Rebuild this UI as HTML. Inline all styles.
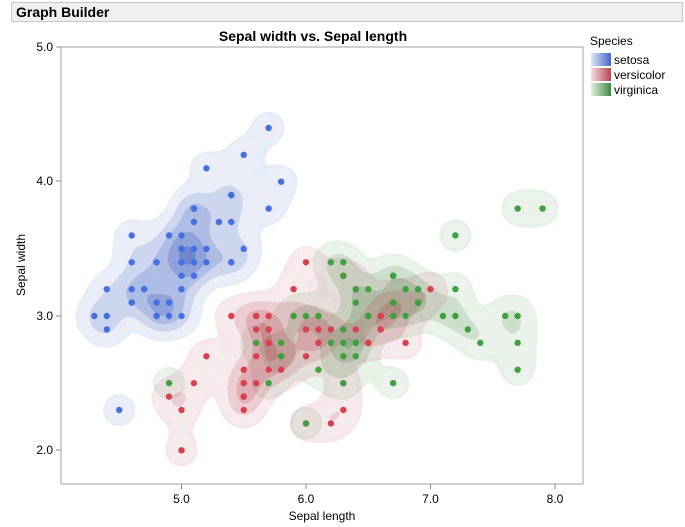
<!DOCTYPE html>
<html><head><meta charset="utf-8"><style>
body{margin:0;background:#fff;font-family:"Liberation Sans",sans-serif;}
#hdr{position:absolute;left:11px;top:2px;width:672px;height:20px;background:#f0f0f0;border:1px solid #c8c8c8;box-sizing:border-box;font-weight:bold;font-size:14px;line-height:19px;padding-left:4px;}
</style></head><body>
<div id="hdr">Graph Builder</div>
<svg id="s" width="685" height="527" style="position:absolute;left:0;top:0" xmlns="http://www.w3.org/2000/svg">
<defs>
<clipPath id="cp"><rect x="61" y="47" width="522" height="437"/></clipPath>
<filter id="f1" x="-10%" y="-10%" width="120%" height="120%"><feGaussianBlur stdDeviation="12"/><feComponentTransfer><feFuncA type="discrete" tableValues="0 0.12 0.12 0.28 0.28 0.45 0.45 0.62 0.62 0.8 0.8 0.9 0.9 0.9 0.9 0.9"/></feComponentTransfer></filter>
</defs>
<text x="313" y="41" font-size="14" font-weight="bold" text-anchor="middle">Sepal width vs. Sepal length</text>
<g id="dens" clip-path="url(#cp)"></g>
<g id="pts" clip-path="url(#cp)"></g>
<rect x="61" y="47" width="522" height="437" fill="none" stroke="#a0a0a0"/>
<g stroke="#888" font-size="12" fill="#000">
<line x1="56" y1="47" x2="61" y2="47"/><line x1="56" y1="181" x2="61" y2="181"/><line x1="56" y1="316" x2="61" y2="316"/><line x1="56" y1="450" x2="61" y2="450"/>
<line x1="181.5" y1="484" x2="181.5" y2="489"/><line x1="306" y1="484" x2="306" y2="489"/><line x1="430.5" y1="484" x2="430.5" y2="489"/><line x1="555" y1="484" x2="555" y2="489"/>
</g>
<g font-size="12" fill="#000" text-anchor="end" stroke="none">
<text x="53" y="51">5.0</text><text x="53" y="185">4.0</text><text x="53" y="320">3.0</text><text x="53" y="454">2.0</text>
</g>
<g font-size="12" fill="#000" text-anchor="middle">
<text x="181.5" y="503">5.0</text><text x="306" y="503">6.0</text><text x="430.5" y="503">7.0</text><text x="555" y="503">8.0</text>
<text x="322" y="520">Sepal length</text>
<text transform="translate(25,265) rotate(-90)">Sepal width</text>
</g>
<g font-size="12" fill="#000">
<text x="590" y="45">Species</text>
<defs>
<linearGradient id="gb"><stop offset="0" stop-color="#dfe6f6"/><stop offset="1" stop-color="#4466c8"/></linearGradient>
<linearGradient id="gr"><stop offset="0" stop-color="#f6e0e2"/><stop offset="1" stop-color="#b84050"/></linearGradient>
<linearGradient id="gg"><stop offset="0" stop-color="#e2efe2"/><stop offset="1" stop-color="#3f8a3f"/></linearGradient>
</defs>
<rect x="591" y="53" width="20" height="13" fill="url(#gb)"/><text x="614" y="64">setosa</text>
<rect x="591" y="68" width="20" height="13" fill="url(#gr)"/><text x="614" y="79">versicolor</text>
<rect x="591" y="83" width="20" height="13" fill="url(#gg)"/><text x="614" y="94">virginica</text>
</g>
</svg>
<script>
var D={
s:[[5.1,3.5],[4.9,3.0],[4.7,3.2],[4.6,3.1],[5.0,3.6],[5.4,3.9],[4.6,3.4],[5.0,3.4],[4.4,2.9],[4.9,3.1],[5.4,3.7],[4.8,3.4],[4.8,3.0],[4.3,3.0],[5.8,4.0],[5.7,4.4],[5.4,3.9],[5.1,3.5],[5.7,3.8],[5.1,3.8],[5.4,3.4],[5.1,3.7],[4.6,3.6],[5.1,3.3],[4.8,3.4],[5.0,3.0],[5.0,3.4],[5.2,3.5],[5.2,3.4],[4.7,3.2],[4.8,3.1],[5.4,3.4],[5.2,4.1],[5.5,4.2],[4.9,3.1],[5.0,3.2],[5.5,3.5],[4.9,3.6],[4.4,3.0],[5.1,3.4],[5.0,3.5],[4.5,2.3],[4.4,3.2],[5.0,3.5],[5.1,3.8],[4.8,3.0],[5.1,3.8],[4.6,3.2],[5.3,3.7],[5.0,3.3]],
v:[[7.0,3.2],[6.4,3.2],[6.9,3.1],[5.5,2.3],[6.5,2.8],[5.7,2.8],[6.3,3.3],[4.9,2.4],[6.6,2.9],[5.2,2.7],[5.0,2.0],[5.9,3.0],[6.0,2.2],[6.1,2.9],[5.6,2.9],[6.7,3.1],[5.6,3.0],[5.8,2.7],[6.2,2.2],[5.6,2.5],[5.9,3.2],[6.1,2.8],[6.3,2.5],[6.1,2.8],[6.4,2.9],[6.6,3.0],[6.8,2.8],[6.7,3.0],[6.0,2.9],[5.7,2.6],[5.5,2.4],[5.5,2.4],[5.8,2.7],[6.0,2.7],[5.4,3.0],[6.0,3.4],[6.7,3.1],[6.3,2.3],[5.6,3.0],[5.5,2.5],[5.5,2.6],[6.1,3.0],[5.8,2.6],[5.0,2.3],[5.6,2.7],[5.7,3.0],[5.7,2.9],[6.2,2.9],[5.1,2.5],[5.7,2.8]],
g:[[6.3,3.3],[5.8,2.7],[7.1,3.0],[6.3,2.9],[6.5,3.0],[7.6,3.0],[4.9,2.5],[7.3,2.9],[6.7,2.5],[7.2,3.6],[6.5,3.2],[6.4,2.7],[6.8,3.0],[5.7,2.5],[5.8,2.8],[6.4,3.2],[6.5,3.0],[7.7,3.8],[7.7,2.6],[6.0,2.2],[6.9,3.2],[5.6,2.8],[7.7,2.8],[6.3,2.7],[6.7,3.3],[7.2,3.2],[6.2,2.8],[6.1,3.0],[6.4,2.8],[7.2,3.0],[7.4,2.8],[7.9,3.8],[6.4,2.8],[6.3,2.8],[6.1,2.6],[7.7,3.0],[6.3,3.4],[6.4,3.1],[6.0,3.0],[6.9,3.1],[6.7,3.1],[6.9,3.1],[5.8,2.7],[6.8,3.2],[6.7,3.3],[6.7,3.0],[6.3,2.5],[6.5,3.0],[6.2,3.4],[5.9,3.0]]};
var C={s:["#2f50b8","#4470e0"],v:["#b02c40","#d8404e"],g:["#2c7a2c","#3ea03e"]};
var NS="http://www.w3.org/2000/svg";
function X(x){return 181.5+(x-5)*124.5}function Y(y){return 316-(y-3)*134.3}
var dens=document.getElementById("dens"),pts=document.getElementById("pts");
["g","v","s"].forEach(function(k){var g=document.createElementNS(NS,"g");g.setAttribute("filter","url(#f1)");
D[k].forEach(function(p){var c=document.createElementNS(NS,"circle");c.setAttribute("cx",X(p[0]));c.setAttribute("cy",Y(p[1]));c.setAttribute("r",15);c.setAttribute("fill",C[k][0]);c.setAttribute("fill-opacity","0.2");g.appendChild(c);});
var w=document.createElementNS(NS,"g");w.setAttribute("opacity","0.85");w.appendChild(g);dens.appendChild(w);});
["s","v","g"].forEach(function(k){D[k].forEach(function(p){var c=document.createElementNS(NS,"circle");c.setAttribute("cx",X(p[0]));c.setAttribute("cy",Y(p[1]));c.setAttribute("r",3.2);c.setAttribute("fill",C[k][1]);pts.appendChild(c);});});
</script>
</body></html>
